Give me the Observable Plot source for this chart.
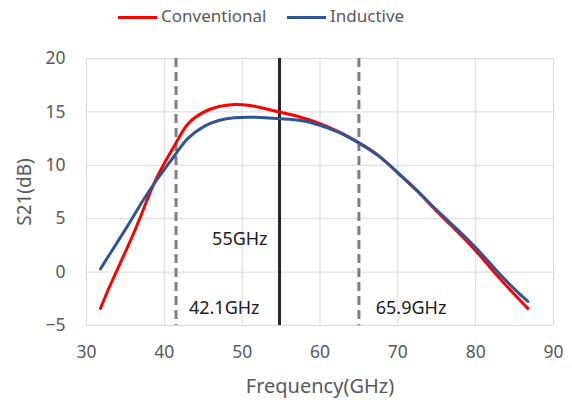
<!DOCTYPE html>
<html>
<head>
<meta charset="utf-8">
<script src="https://cdn.jsdelivr.net/npm/d3@7"></script>
<script src="https://cdn.jsdelivr.net/npm/@observablehq/plot@0.6"></script>
<style>
  body { margin: 0; background: #fff; font-family: "Noto Sans", "Open Sans", sans-serif; }
  #wrap { width: 572px; height: 400px; position: relative; }
  #legend { height: 34px; position: relative; font-size: 17px; color: #595959; }
  .sw { position: absolute; top: 16px; height: 3px; width: 39px; }
  .lb { position: absolute; top: 4px; line-height: 24px; }
  svg text { font-family: "Noto Sans", "Open Sans", sans-serif; }
</style>
</head>
<body>
<div id="wrap">
  <div id="legend"></div>
  <div id="chart"></div>
</div>
<script>
const seriesNames = ["Conventional", "Inductive"];
const seriesColors = ["#ff0000", "#2f5597"];
const freq = [31.8, 33, 35, 37, 39, 41.5, 43, 45, 47, 49, 51, 53, 55, 57.5, 60, 62.5, 65, 67.5, 70, 72.5, 75, 77.5, 80, 82.5, 85, 86.7];
const conventional = [-3.4, -1.3, 1.9, 5.3, 8.8, 12.1, 13.85, 14.95, 15.5, 15.7, 15.6, 15.3, 14.95, 14.5, 13.9, 13.1, 12.1, 10.9, 9.3, 7.6, 5.7, 3.9, 2.0, -0.1, -2.1, -3.4];
const inductive = [0.3, 1.7, 4.0, 6.4, 8.6, 11.1, 12.5, 13.6, 14.2, 14.45, 14.5, 14.45, 14.35, 14.2, 13.75, 13.06, 12.1, 10.9, 9.3, 7.6, 5.8, 4.1, 2.3, 0.3, -1.6, -2.75];
const xTicks = [30, 40, 50, 60, 70, 80, 90];
const yTicks = [-5, 0, 5, 10, 15, 20];
const dashedX = [41.5, 65.0];
const centerX = [54.8];
const annotX = [49.7, 47.7, 71.7];
const annotY = [3.1, -3.4, -3.4];
const annotText = ["55GHz", "42.1GHz", "65.9GHz"];

const rows = [];
freq.forEach((f, i) => {
  rows.push({f, v: conventional[i], s: seriesNames[0]});
  rows.push({f, v: inductive[i], s: seriesNames[1]});
});
const annots = annotText.map((t, i) => ({x: annotX[i], y: annotY[i], t}));

// legend
const legend = document.getElementById("legend");
const legPos = [[118, 161], [287, 330]];
seriesNames.forEach((n, i) => {
  const sw = document.createElement("div");
  sw.className = "sw"; sw.style.left = legPos[i][0] + "px"; sw.style.background = seriesColors[i];
  legend.appendChild(sw);
  const lb = document.createElement("div");
  lb.className = "lb"; lb.style.left = legPos[i][1] + "px"; lb.textContent = n;
  legend.appendChild(lb);
});

const chart = Plot.plot({
  width: 572,
  height: 366,
  marginTop: 24,
  marginBottom: 75,
  marginLeft: 86,
  marginRight: 19,
  style: {fontSize: "17px", color: "#595959", background: "#fff"},
  x: {domain: [30, 90], ticks: xTicks, label: null},
  y: {domain: [-5, 20], ticks: yTicks, label: null},
  color: {domain: seriesNames, range: seriesColors},
  marks: [
    Plot.gridX(xTicks, {stroke: "#d9d9d9", strokeOpacity: 1, strokeWidth: 1}),
    Plot.gridY(yTicks, {stroke: "#d9d9d9", strokeOpacity: 1, strokeWidth: 1}),
    Plot.axisX(xTicks, {tickSize: 0, tickPadding: 20, fontSize: 17.5, fill: "#595959", label: null}),
    Plot.axisY(yTicks, {tickSize: 0, tickPadding: 21, fontSize: 17.5, fill: "#595959", label: null}),
    Plot.ruleX(dashedX, {stroke: "#7f7f7f", strokeWidth: 3, strokeDasharray: "9,5"}),
    Plot.ruleX(centerX, {stroke: "#262626", strokeWidth: 3}),
    Plot.line(rows, {x: "f", y: "v", z: "s", stroke: "s", strokeWidth: 3, curve: "natural"}),
    Plot.text(annots, {x: "x", y: "y", text: "t", fill: "#1a1a1a", fontSize: 18}),
    Plot.text(["Frequency(GHz)"], {frameAnchor: "bottom", textAnchor: "middle", lineAnchor: "middle", dy: 61, fontSize: 20, fill: "#595959"}),
    Plot.text([{t: "S21(dB)", y: 7.5}], {y: "y", text: "t", frameAnchor: "left", textAnchor: "middle", lineAnchor: "middle", dx: -62, rotate: -90, fontSize: 19, fill: "#595959"})
  ]
});
document.getElementById("chart").appendChild(chart);
</script>
</body>
</html>
